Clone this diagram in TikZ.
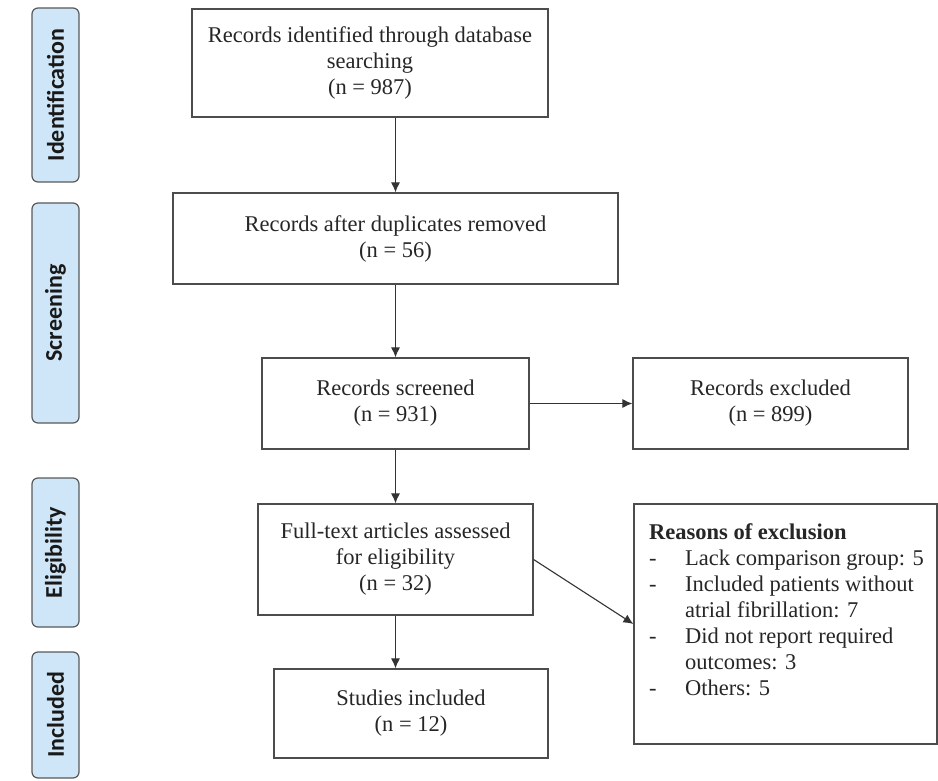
\documentclass[tikz,border=0pt]{standalone}
\usepackage{fontspec}
\setmainfont{Liberation Serif}
\newfontfamily\stagefont{Carlito}
\usetikzlibrary{arrows.meta}
\definecolor{stageblue}{RGB}{206,230,247}

\begin{document}
\begin{tikzpicture}[x=1pt,y=-1pt,
    box/.style={draw=black!70,line width=1.2pt,align=center,text=black!85,
      inner sep=0pt,font=\fontsize{22.5}{26}\selectfont},
    stage/.style={draw=black!65,line width=1.2pt,rounded corners=6pt,fill=stageblue,
      rotate=90,minimum height=47pt,inner sep=0pt,text=black!90,
      font=\stagefont\bfseries\fontsize{24}{26}\selectfont},
    arr/.style={-{Latex[length=10pt,width=9pt]},line width=1.1pt,draw=black!80}]
    \useasboundingbox (0,0) rectangle (938,781);
    % stages on the left
    \node[stage,minimum width=174pt] (identification) at (55.5,95) {Identification};
    \node[stage,minimum width=220pt] (screening) at (55.5,313) {Screening};
    \node[stage,minimum width=149pt] (eligibility) at (55.5,552.5) {Eligibility};
    \node[stage,minimum width=126pt] (included) at (55.5,715) {Included};
    % flow boxes
    \node[box,minimum width=356pt,minimum height=108pt] (ident) at (370,63)
        {Records identified through database\\searching\\(n = 987)};
    \node[box,minimum width=445pt,minimum height=91pt] (dedup) at (395.5,238.5)
        {Records after duplicates removed\\(n = 56)};
    \node[box,minimum width=267pt,minimum height=91pt] (screen) at (395.5,403.5)
        {Records screened\\(n = 931)};
    \node[box,minimum width=275pt,minimum height=91pt] (excl) at (770.5,403.5)
        {Records excluded\\(n = 899)};
    \node[box,minimum width=275pt,minimum height=111pt] (fulltext) at (395.5,559.5)
        {Full-text articles assessed\\for eligibility\\(n = 32)};
    \node[box,minimum width=274pt,minimum height=89pt] (incl) at (411,713.5)
        {Studies included\\(n = 12)};
    \node[box,minimum width=303pt,minimum height=240pt] (reasons) at (785.5,624) {};
    \node[anchor=north west,align=left,inner sep=0pt,text=black!85,
        font=\fontsize{22.5}{26}\selectfont] (reasonslist) at (649,523)
        {\textbf{Reasons of exclusion}\\
         \makebox[36pt][l]{-}Lack comparison group: 5\\
         \makebox[36pt][l]{-}Included patients without\\
         \hspace*{36pt}atrial fibrillation: 7\\
         \makebox[36pt][l]{-}Did not report required\\
         \hspace*{36pt}outcomes: 3\\
         \makebox[36pt][l]{-}Others: 5};
    % arrows
    \draw[arr] (ident.south -| dedup.north) -- (dedup.north);
    \draw[arr] (dedup.south) -- (screen.north);
    \draw[arr] (screen.east) -- (excl.west);
    \draw[arr] (screen.south) -- (fulltext.north);
    \draw[arr] (fulltext.east) -- (reasons.west);
    \draw[arr] (fulltext.south) -- (fulltext.south |- incl.north);
\end{tikzpicture}
\end{document}
